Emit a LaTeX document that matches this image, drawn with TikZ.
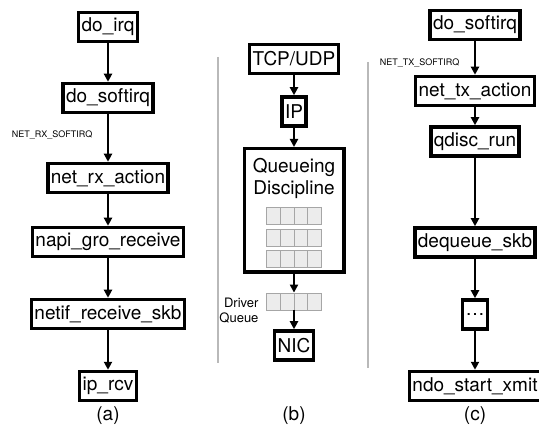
\documentclass[tikz,border=0pt]{standalone}
\usepackage{fontspec}
\setmainfont{TeX Gyre Heros}
\usetikzlibrary{arrows.meta,positioning,calc}

\tikzset{
  func/.style={draw, line width=3.5pt, inner xsep=3pt, inner ysep=0pt,
    minimum height=29pt, font=\fontsize{19}{22}\selectfont},
  flow/.style={line width=2pt, -{Triangle[length=8pt,width=8pt]}},
  irqlabel/.style={font=\fontsize{9}{9}\selectfont, anchor=east},
  caption/.style={font=\fontsize{19}{22}\selectfont},
  queue/.style={draw=gray!70, fill=gray!15, line width=0.8pt,
    minimum width=55pt, minimum height=17pt, inner sep=0pt,
    path picture={
      \foreach \k in {1,2,3}
        \draw[gray!70, line width=0.8pt]
          ($(path picture bounding box.south west)!\k/4!(path picture bounding box.south east)$) --
          ($(path picture bounding box.north west)!\k/4!(path picture bounding box.north east)$);
    }},
  divider/.style={draw=gray!55, line width=1.2pt}
}

\begin{document}
\begin{tikzpicture}[x=1pt,y=-1pt]
\useasboundingbox (0,0) rectangle (539,425);

% (a) receive side
\node[func] (irq) at (108,27) {do\_irq};
\node[func] (rxsoft) at (108,98) {do\_softirq};
\node[func] (rxaction) at (108,178) {net\_rx\_action};
\node[func] (gro) at (108,242) {napi\_gro\_receive};
\node[func] (netif) at (108,314) {netif\_receive\_skb};
\node[func] (iprcv) at (108,386) {ip\_rcv};
\node[irqlabel] (rxirq) at (96,135) {NET\_RX\_SOFTIRQ};
\node[caption] (capa) at (108,416) {(a)};
\draw[flow] (irq) -- (rxsoft);
\draw[flow] (rxsoft) -- (rxaction);
\draw[flow] (rxaction) -- (gro);
\draw[flow] (gro) -- (netif);
\draw[flow] (netif) -- (iprcv);

% (b) stack and queues
\draw[divider] (218,57) -- (218,363);
\draw[divider] (368,62) -- (368,368);
\node[func] (tcp) at (294,59) {TCP/UDP};
\node[func] (ip) at (294,111.5) {IP};
\node[draw, line width=3.5pt, minimum width=99.5pt, minimum height=123.5pt] (qdisc) at (294,210.5) {};
\node[caption, align=center] (qdtext) at (294,178) {Queueing\\Discipline};
\foreach \y in {215.5,237.5,259}
  \node[queue] at (294,\y) {};
\node[queue] (drvq) at (294,301.5) {};
\node[anchor=east, align=right, font=\fontsize{13}{15}\selectfont] (drvtext) at (262,310.5) {Driver\\Queue};
\node[func] (nic) at (294,345.5) {NIC};
\node[caption] (capb) at (294,416) {(b)};
\draw[flow] (tcp) -- (ip);
\draw[flow] (ip) -- (qdisc);
\draw[flow] (qdisc) -- (drvq);
\draw[flow] (drvq) -- (nic);

% (c) transmit side
\node[func] (txsoft) at (475,25) {do\_softirq};
\node[func] (txaction) at (475,91) {net\_tx\_action};
\node[func] (qrun) at (475,141.5) {qdisc\_run};
\node[func] (deq) at (475,242.5) {dequeue\_skb};
\node[func] (dots) at (475,314.5) {\ldots};
\node[func] (xmit) at (475,386) {ndo\_start\_xmit};
\node[irqlabel] (txirq) at (463,63) {NET\_TX\_SOFTIRQ};
\node[caption] (capc) at (475,416) {(c)};
\draw[flow] (txsoft) -- (txaction);
\draw[flow] (txaction) -- (qrun);
\draw[flow] (qrun) -- (deq);
\draw[flow] (deq) -- (dots);
\draw[flow] (dots) -- (xmit);
\end{tikzpicture}
\end{document}
